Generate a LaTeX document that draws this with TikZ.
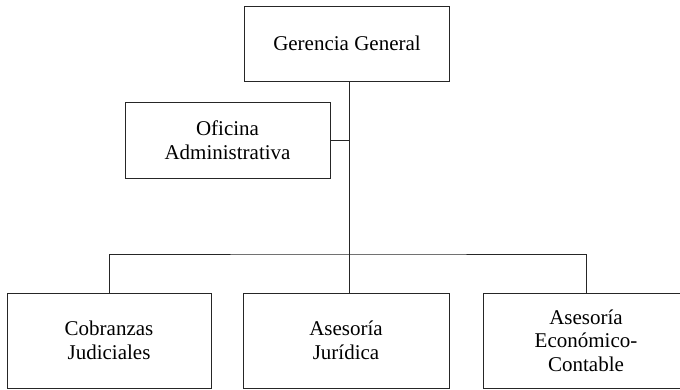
\documentclass[tikz,border=0pt]{standalone}
\usepackage{fontspec}
\setmainfont{Liberation Serif}
\begin{document}
\begin{tikzpicture}[x=1pt,y=-1pt,
  unit/.style={draw=black!85,line width=0.8pt,fill=white,align=center,
    inner sep=0pt,font=\fontsize{21}{23.5}\selectfont},
  link/.style={draw=black!85,line width=0.8pt}]
\useasboundingbox (0,0) rectangle (680,389);
% boxes of the chart
\node[unit,minimum width=205pt,minimum height=75pt] (gg) at (347,43.5) {Gerencia General};
\node[unit,minimum width=205pt,minimum height=76pt] (oa) at (227.5,140) {Oficina\\Administrativa};
\node[unit,minimum width=204pt,minimum height=95pt] (cj) at (109,340.5) {Cobranzas\\Judiciales};
\node[unit,minimum width=206pt,minimum height=95pt] (aj) at (346,340.5) {Asesoría\\Jurídica};
\node[unit,minimum width=206pt,minimum height=95pt] (ae) at (586,340.5) {Asesoría\\Económico-\\Contable};
% trunk and branches
\coordinate (bus) at (349,254);
\draw[link] (gg.south -| bus) -- (bus);
\draw[link] (oa.east) -- (oa.east -| bus);
\draw[link] (cj.north) |- (bus) -| (ae.north);
\draw[link] (bus) -- (bus |- aj.north);
\end{tikzpicture}
\end{document}
